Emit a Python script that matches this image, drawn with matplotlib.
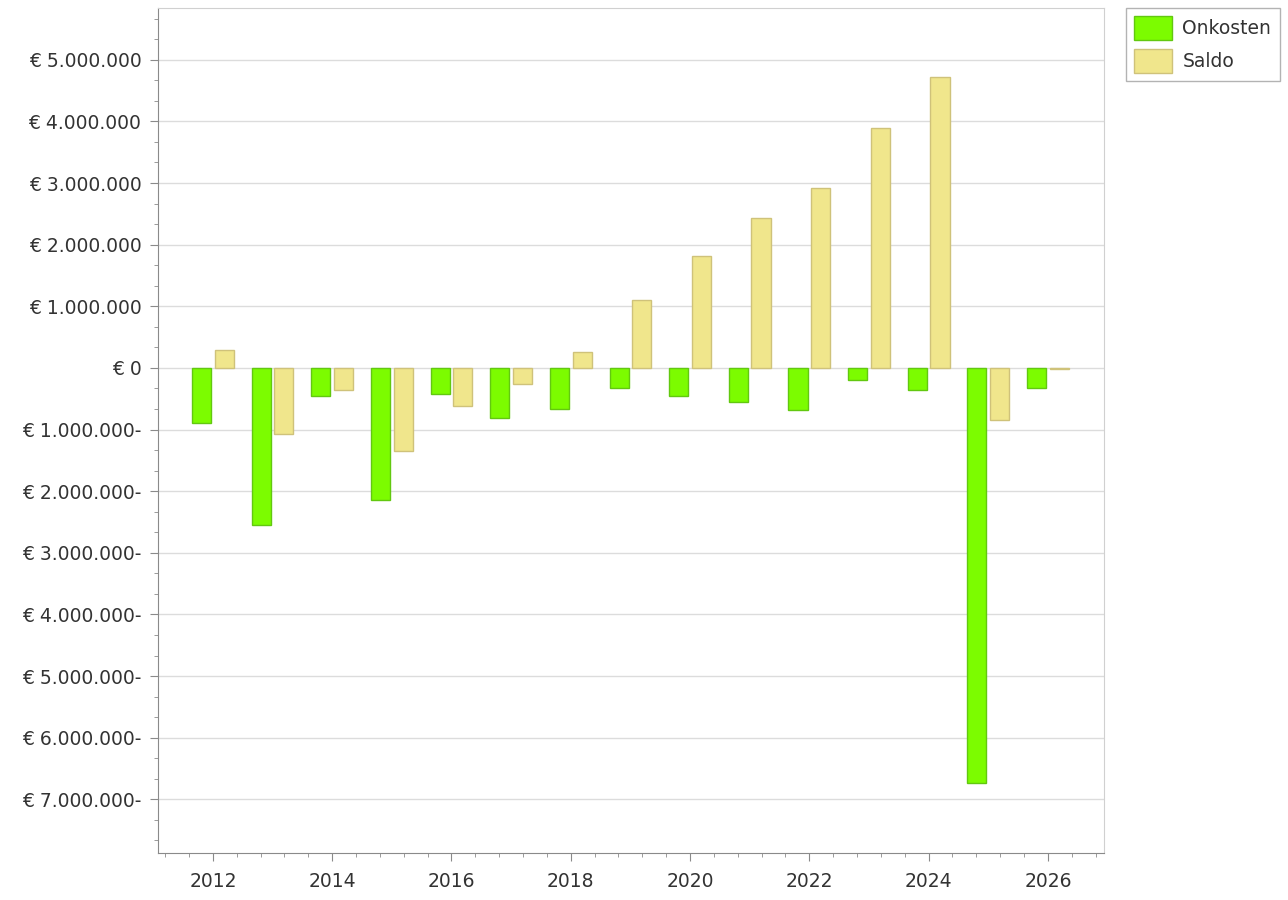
import matplotlib
matplotlib.use("Agg")
import matplotlib.pyplot as plt
from matplotlib.ticker import MultipleLocator, AutoMinorLocator, FuncFormatter
import numpy as np

years = [2012, 2013, 2014, 2015, 2016, 2017, 2018, 2019,
         2020, 2021, 2022, 2023, 2024, 2025, 2026]
onkosten = [-890000, -2550000, -450000, -2140000, -420000, -810000, -670000, -320000,
            -450000, -550000, -680000, -190000, -360000, -6740000, -320000]
saldo = [290000, -1070000, -360000, -1350000, -620000, -260000, 260000, 1100000,
         1820000, 2440000, 2920000, 3900000, 4720000, -840000, -10000]

plt.rcParams['font.family'] = ['DejaVu Sans']

fig = plt.figure(figsize=(12.88, 9), dpi=100)
ax = fig.add_axes([158 / 1288, 1 - 853 / 900, (1104 - 158) / 1288, (853 - 8) / 900])

x = np.array(years, dtype=float)
w = 0.32
ax.bar(x - 0.19, onkosten, width=w, color='#7CFC00', edgecolor='#62C810',
       linewidth=1, label='Onkosten', zorder=3)
ax.bar(x + 0.19, saldo, width=w, color='#F0E68C', edgecolor='#CFC27A',
       linewidth=1, label='Saldo', zorder=3)


def euro(v, pos):
    n = int(round(abs(v)))
    s = f"{n:,}".replace(",", ".")
    if v < -0.5:
        return f"€ {s}-"
    return f"€ {s}"


ax.set_xlim(2011.08, 2026.94)
ax.set_ylim(-7.87e6, 5.84e6)
ax.yaxis.set_major_locator(MultipleLocator(1e6))
ax.yaxis.set_minor_locator(AutoMinorLocator(3))
ax.yaxis.set_major_formatter(FuncFormatter(euro))
ax.xaxis.set_major_locator(MultipleLocator(2))
ax.xaxis.set_minor_locator(AutoMinorLocator(5))

ax.grid(axis='y', which='major', color='#dcdcdc', linewidth=1, zorder=0)
ax.set_axisbelow(True)

for side in ['left', 'bottom']:
    ax.spines[side].set_color('#8a8a8a')
for side in ['top', 'right']:
    ax.spines[side].set_color('#d0d0d0')

ax.tick_params(axis='both', which='major', direction='out', length=6,
               color='#8a8a8a', labelsize=13.5, labelcolor='#333333', pad=6)
ax.tick_params(axis='both', which='minor', direction='out', length=3,
               color='#8a8a8a')
ax.tick_params(axis='x', which='major', pad=8)

leg = fig.legend(loc='upper left', bbox_to_anchor=(1126 / 1288, 1 - 8 / 900),
                 fontsize=13.5, frameon=True, fancybox=False, handlelength=2.0,
                 handleheight=1.55, borderpad=0.45, labelspacing=0.5,
                 handletextpad=0.55, borderaxespad=0)
leg.get_frame().set_edgecolor('#a0a0a0')
leg.get_frame().set_linewidth(1)
for t in leg.get_texts():
    t.set_color('#333333')

fig.savefig('out.png', dpi=100)
